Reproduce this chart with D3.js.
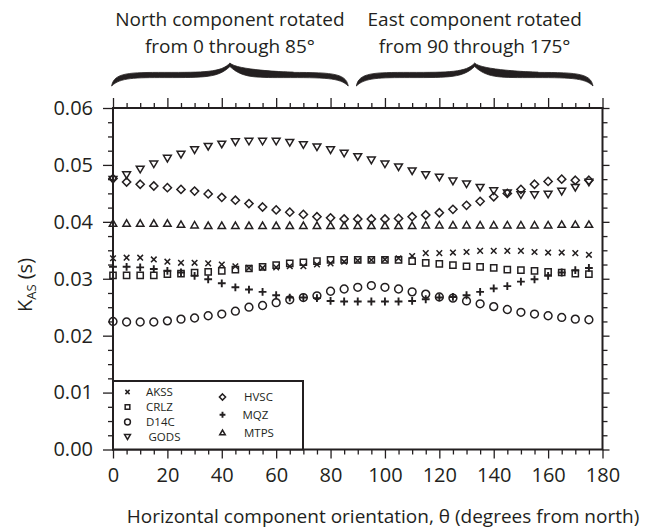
<!DOCTYPE html>
<html>
<head>
<meta charset="utf-8">
<script src="https://cdn.jsdelivr.net/npm/d3@7/dist/d3.min.js"></script>
<style>
  html, body { margin: 0; padding: 0; background: #ffffff; }
  svg text { font-family: "Open Sans", "Noto Sans", sans-serif; fill: #231f20; }
</style>
</head>
<body>
<script>
// Orientation angles (degrees from north)
const thetas = [0, 5, 10, 15, 20, 25, 30, 35, 40, 45, 50, 55, 60, 65, 70, 75, 80, 85,
                90, 95, 100, 105, 110, 115, 120, 125, 130, 135, 140, 145, 150, 155, 160, 165, 170, 175];

// Kappa_AS (s) per station
const akss = [0.0336, 0.0337, 0.0337, 0.0334, 0.0330, 0.0328, 0.0328, 0.0327, 0.0325, 0.0322, 0.0319, 0.0319,
              0.0320, 0.0322, 0.0322, 0.0325, 0.0327, 0.0330, 0.0332, 0.0333, 0.0334, 0.0336, 0.0340, 0.0345,
              0.0345, 0.0346, 0.0347, 0.0349, 0.0349, 0.0349, 0.0349, 0.0347, 0.0346, 0.0346, 0.0345, 0.0342];
const crlz = [0.0306, 0.0306, 0.0306, 0.0306, 0.0308, 0.0309, 0.0311, 0.0312, 0.0314, 0.0316, 0.0318, 0.0321,
              0.0324, 0.0327, 0.0329, 0.0331, 0.0333, 0.0333, 0.0333, 0.0333, 0.0333, 0.0333, 0.0331, 0.0328,
              0.0326, 0.0324, 0.0322, 0.0321, 0.0319, 0.0316, 0.0315, 0.0314, 0.0312, 0.0311, 0.0309, 0.0308];
const d14c = [0.0225, 0.0224, 0.0224, 0.0224, 0.0226, 0.0229, 0.0231, 0.0235, 0.0238, 0.0243, 0.0250, 0.0253,
              0.0258, 0.0263, 0.0267, 0.0270, 0.0278, 0.0282, 0.0285, 0.0288, 0.0285, 0.0282, 0.0277, 0.0273,
              0.0268, 0.0266, 0.0261, 0.0256, 0.0251, 0.0246, 0.0241, 0.0238, 0.0235, 0.0232, 0.0229, 0.0228];
const gods = [0.0474, 0.0482, 0.0492, 0.0501, 0.0511, 0.0518, 0.0526, 0.0532, 0.0536, 0.0540, 0.0541, 0.0541,
              0.0541, 0.0539, 0.0535, 0.0531, 0.0526, 0.0520, 0.0514, 0.0508, 0.0501, 0.0496, 0.0489, 0.0482,
              0.0478, 0.0471, 0.0466, 0.0460, 0.0454, 0.0450, 0.0447, 0.0447, 0.0448, 0.0453, 0.0460, 0.0469];
const hvsc = [0.0476, 0.0470, 0.0466, 0.0463, 0.0460, 0.0457, 0.0454, 0.0449, 0.0443, 0.0438, 0.0432, 0.0426,
              0.0421, 0.0417, 0.0413, 0.0409, 0.0407, 0.0405, 0.0405, 0.0405, 0.0405, 0.0406, 0.0409, 0.0412,
              0.0416, 0.0422, 0.0429, 0.0436, 0.0444, 0.0450, 0.0457, 0.0466, 0.0471, 0.0475, 0.0473, 0.0473];
const mqz  = [0.0321, 0.0321, 0.0320, 0.0317, 0.0314, 0.0311, 0.0305, 0.0299, 0.0292, 0.0285, 0.0281, 0.0277,
              0.0271, 0.0267, 0.0267, 0.0266, 0.0261, 0.0260, 0.0260, 0.0260, 0.0260, 0.0260, 0.0261, 0.0264,
              0.0267, 0.0268, 0.0271, 0.0277, 0.0283, 0.0287, 0.0295, 0.0299, 0.0305, 0.0311, 0.0315, 0.0319];
const mtps = [0.0398, 0.0398, 0.0398, 0.0398, 0.0398, 0.0396, 0.0395, 0.0394, 0.0394, 0.0394, 0.0394, 0.0394,
              0.0394, 0.0394, 0.0394, 0.0394, 0.0394, 0.0394, 0.0394, 0.0394, 0.0394, 0.0394, 0.0394, 0.0395,
              0.0395, 0.0395, 0.0395, 0.0395, 0.0395, 0.0395, 0.0395, 0.0395, 0.0395, 0.0396, 0.0396, 0.0396];

const stations = ["AKSS", "CRLZ", "D14C", "GODS", "HVSC", "MQZ", "MTPS"];
const markers  = ["cross", "square", "circle", "triDown", "diamond", "plus", "triUp"];
const seriesValues = [akss, crlz, d14c, gods, hvsc, mqz, mtps];

// Tick values
const xMajorTicks = [0, 20, 40, 60, 80, 100, 120, 140, 160, 180];
const xMinorTicks = [5, 10, 15, 25, 30, 35, 45, 50, 55, 65, 70, 75, 85, 90, 95, 105, 110, 115,
                     125, 130, 135, 145, 150, 155, 165, 170, 175];
const yMajorTicks = [0, 0.01, 0.02, 0.03, 0.04, 0.05, 0.06];
const yMinorTicks = [0.0025, 0.005, 0.0075, 0.0125, 0.015, 0.0175, 0.0225, 0.025, 0.0275,
                     0.0325, 0.035, 0.0375, 0.0425, 0.045, 0.0475, 0.0525, 0.055, 0.0575];

const headerLeft  = ["North component rotated", "from 0 through 85°"];
const headerRight = ["East component rotated", "from 90 through 175°"];

const W = 649, H = 531;
const ink = "#231f20";

const svg = d3.select("body").append("svg").attr("width", W).attr("height", H);

const x = d3.scaleLinear().domain([0, 180]).range([113, 602.5]);
const y = d3.scaleLinear().domain([0, 0.06]).range([449.5, 108]);

// Marker outlines, centred on the origin
function markerPath(type, s) {
  switch (type) {
    case "cross":   { const r = 2.8 * s; return `M${-r},${-r}L${r},${r}M${-r},${r}L${r},${-r}`; }
    case "plus":    { const r = 3.9 * s; return `M${-r},0L${r},0M0,${-r}L0,${r}`; }
    case "square":  { const r = 3.1 * s; return `M${-r},${-r}H${r}V${r}H${-r}Z`; }
    case "circle":  { const r = 3.9 * s; return `M${r},0A${r},${r} 0 1,1 ${-r},0A${r},${r} 0 1,1 ${r},0Z`; }
    case "diamond": { const r = 4.1 * s; return `M0,${-r}L${r},0L0,${r}L${-r},0Z`; }
    case "triDown": { const w = 3.9 * s, h = 3.3 * s; return `M${-w},${-h}L${w},${-h}L0,${h}Z`; }
    case "triUp":   { const w = 3.7 * s, h = 3.2 * s; return `M${-w},${h}L${w},${h}L0,${-h}Z`; }
  }
}
const markerStroke = { cross: 1.5, plus: 1.9, square: 1.5, circle: 1.5, diamond: 1.5, triDown: 1.5, triUp: 1.5 };

// Axes: ticks point outward on all four sides
function styleAxis(g) {
  g.select(".domain").remove();
  g.selectAll(".tick line").attr("stroke", ink).attr("stroke-width", 1.3);
  g.selectAll(".tick text").attr("font-size", 20).attr("fill", ink)
    .attr("font-family", '"Open Sans", sans-serif');
}

svg.append("g").attr("transform", `translate(0,${y(0)})`)
  .call(d3.axisBottom(x).tickValues(xMajorTicks).tickSize(9).tickPadding(9).tickFormat(d3.format("d")))
  .call(styleAxis);
svg.append("g").attr("transform", `translate(0,${y(0)})`)
  .call(d3.axisBottom(x).tickValues(xMinorTicks).tickSize(5).tickFormat(""))
  .call(styleAxis);
svg.append("g").attr("transform", `translate(0,${y(0.06)})`)
  .call(d3.axisTop(x).tickValues(xMajorTicks).tickSize(10).tickFormat(""))
  .call(styleAxis);
svg.append("g").attr("transform", `translate(0,${y(0.06)})`)
  .call(d3.axisTop(x).tickValues(xMinorTicks).tickSize(5).tickFormat(""))
  .call(styleAxis);
svg.append("g").attr("transform", `translate(${x(0)},0)`)
  .call(d3.axisLeft(y).tickValues(yMajorTicks).tickSize(10).tickPadding(10).tickFormat(d3.format(".2f")))
  .call(styleAxis);
svg.append("g").attr("transform", `translate(${x(0)},0)`)
  .call(d3.axisLeft(y).tickValues(yMinorTicks).tickSize(5).tickFormat(""))
  .call(styleAxis);
svg.append("g").attr("transform", `translate(${x(180)},0)`)
  .call(d3.axisRight(y).tickValues(yMajorTicks).tickSize(7).tickFormat(""))
  .call(styleAxis);
svg.append("g").attr("transform", `translate(${x(180)},0)`)
  .call(d3.axisRight(y).tickValues(yMinorTicks).tickSize(5).tickFormat(""))
  .call(styleAxis);

// Data markers
const series = stations.map((name, i) => ({ name, marker: markers[i], values: seriesValues[i] }));
const plot = svg.append("g");
series.forEach(s => {
  plot.append("g").selectAll("path")
    .data(s.values.map((v, j) => ({ t: thetas[j], v })))
    .join("path")
    .attr("transform", d => `translate(${x(d.t)},${y(d.v)})`)
    .attr("d", markerPath(s.marker, 1))
    .attr("fill", "none")
    .attr("stroke", ink)
    .attr("stroke-width", markerStroke[s.marker]);
});

// Plot frame
svg.append("rect")
  .attr("x", x(0)).attr("y", y(0.06))
  .attr("width", x(180) - x(0)).attr("height", y(0) - y(0.06))
  .attr("fill", "none").attr("stroke", ink).attr("stroke-width", 2);

// Legend
const legend = svg.append("g");
legend.append("rect")
  .attr("x", x(0)).attr("y", 381)
  .attr("width", 190).attr("height", y(0) - 381)
  .attr("fill", "#fff").attr("stroke", ink).attr("stroke-width", 2);
const legendCols = [
  { items: [0, 1, 2, 3], sx: 127.5, tx: [146, 146, 146, 148.5], y0: 392, dy: 15 },
  { items: [4, 5, 6],    sx: 222.5, tx: [244, 242.5, 244],      y0: 397, dy: 17.7 }
];
legendCols.forEach(col => {
  col.items.forEach((idx, k) => {
    const s = series[idx];
    const cy = col.y0 + k * col.dy;
    legend.append("path")
      .attr("transform", `translate(${col.sx},${cy})`)
      .attr("d", markerPath(s.marker, 0.75))
      .attr("fill", "none").attr("stroke", ink)
      .attr("stroke-width", markerStroke[s.marker]);
    legend.append("text")
      .attr("x", col.tx[k]).attr("y", cy + 4.2)
      .attr("font-family", "Lato, sans-serif")
      .attr("font-size", 11.5)
      .text(s.name);
  });
});

// Axis titles
svg.append("text")
  .attr("x", 383).attr("y", 523)
  .attr("text-anchor", "middle").attr("font-size", 19)
  .text("Horizontal component orientation, θ (degrees from north)");

const yTitle = svg.append("text")
  .attr("transform", "translate(32,285) rotate(-90)")
  .attr("text-anchor", "middle").attr("font-size", 20);
yTitle.append("tspan").text("Κ");
yTitle.append("tspan").attr("font-size", 13).attr("dy", 4).text("AS");
yTitle.append("tspan").attr("dy", -4).text(" (s)");

// Curly braces grouping the two rotation ranges
function bracePath(x0, x1, yEnd, yArm, yTip) {
  const xm = (x0 + x1) / 2, h = xm - x0, t = 2.6;
  return [
    `M${x0},${yEnd}`,
    `C${x0 + 0.02 * h},${yArm - t} ${x0 + 0.15 * h},${yArm - t} ${x0 + 0.45 * h},${yArm - t}`,
    `C${x0 + 0.78 * h},${yArm - t} ${xm - 0.07 * h},${yArm - t} ${xm},${yTip}`,
    `C${xm + 0.07 * h},${yArm - t} ${x1 - 0.22 * h},${yArm - t} ${x1 - 0.55 * h},${yArm - t}`,
    `C${x1 - 0.15 * h},${yArm - t} ${x1 - 0.02 * h},${yArm - t} ${x1},${yEnd}`,
    `C${x1 - 0.07 * h},${yArm + t} ${x1 - 0.2 * h},${yArm + t} ${x1 - 0.55 * h},${yArm + t}`,
    `C${x1 - 0.8 * h},${yArm + t} ${xm + 0.1 * h},${yArm + t} ${xm},${yTip + 3.5}`,
    `C${xm - 0.1 * h},${yArm + t} ${x0 + 0.8 * h},${yArm + t} ${x0 + 0.45 * h},${yArm + t}`,
    `C${x0 + 0.2 * h},${yArm + t} ${x0 + 0.07 * h},${yArm + t} ${x0},${yEnd}`,
    "Z"
  ].join("");
}
svg.append("path").attr("d", bracePath(x(-0.5), x(86.5), 86, 75, 63))
  .attr("fill", ink).attr("stroke", ink).attr("stroke-width", 0.8).attr("stroke-linejoin", "round");
svg.append("path").attr("d", bracePath(x(89.5), x(176.5), 86, 75, 63))
  .attr("fill", ink).attr("stroke", ink).attr("stroke-width", 0.8).attr("stroke-linejoin", "round");

// Headers above the braces
[[headerLeft, x(43)], [headerRight, x(133)]].forEach(([lines, cx]) => {
  lines.forEach((line, i) => {
    svg.append("text")
      .attr("x", cx).attr("y", 26 + i * 27)
      .attr("text-anchor", "middle").attr("font-size", 19)
      .text(line);
  });
});
</script>
</body>
</html>
